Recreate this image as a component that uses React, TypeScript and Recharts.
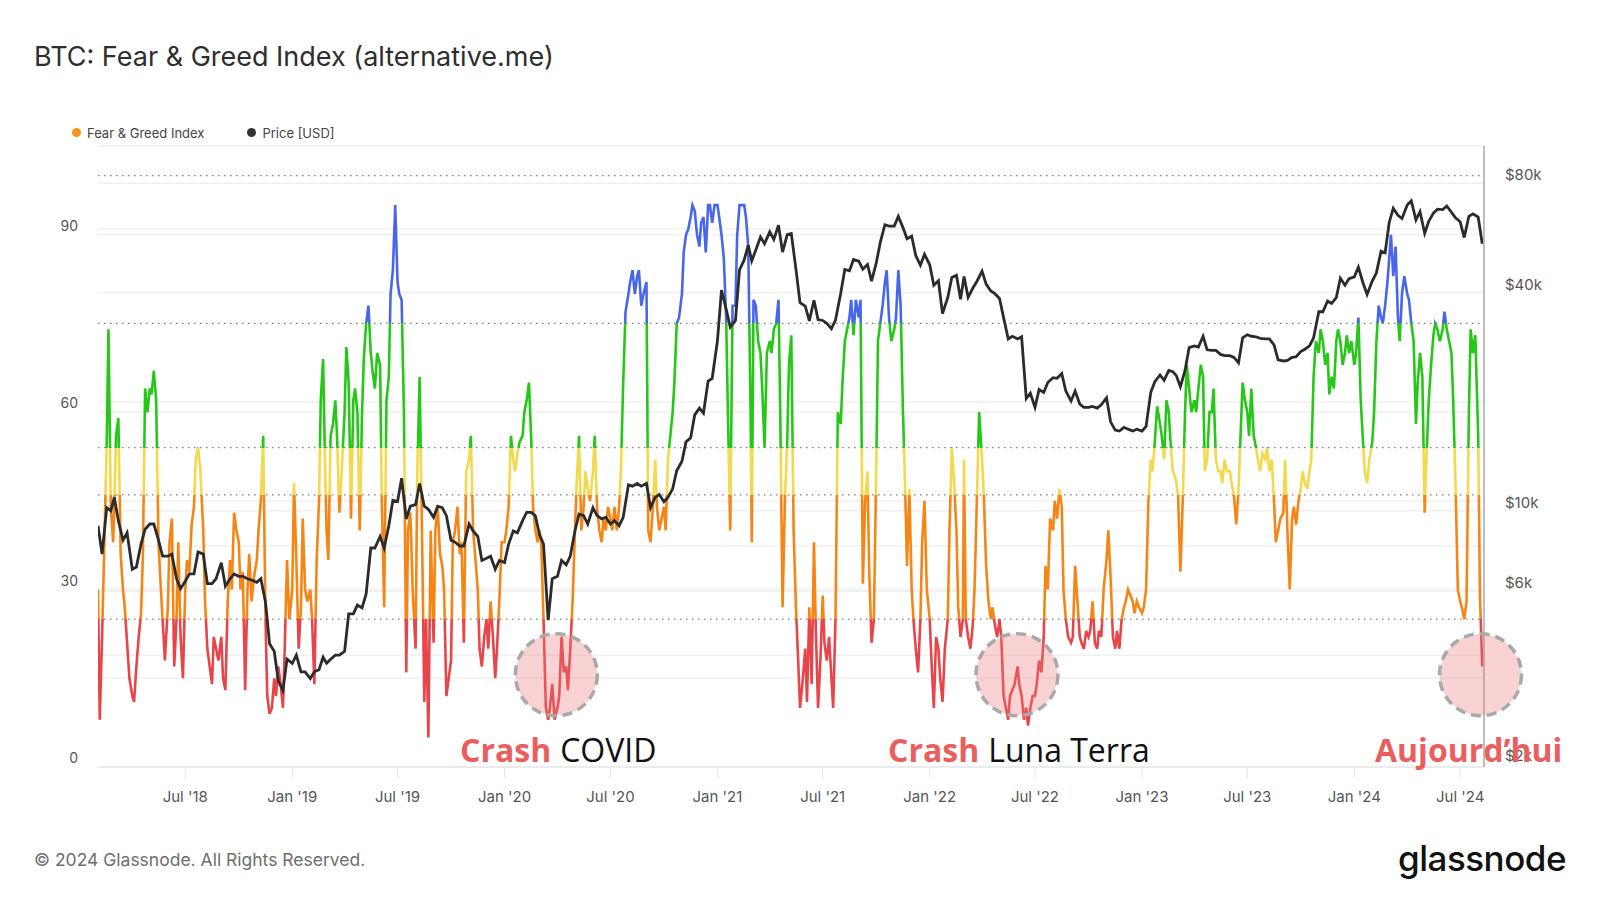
import React from 'react';
import { LineChart, Line, XAxis, YAxis, ReferenceLine, ReferenceDot } from 'recharts';

// ---------- DATA ----------
// Monthly rows starting Feb 2018. Fear & Greed sampled on these days of each month.
const START_YEAR = 2018;
const START_MONTH = 1; // February (0-based)
const SAMPLE_DAYS = [1, 4, 8, 12, 16, 19, 23, 27];
// BTC price sampled on days 1, 8, 16, 23 (slots of SAMPLE_DAYS)
const PRICE_SLOTS = [0, 2, 4, 6];

const fearGreed: number[][] = [
  // 2018
  [30, 8, 22, 38, 55, 74, 44, 38],
  [44, 56, 59, 36, 30, 27, 21, 15],
  [12, 11, 17, 22, 26, 35, 64, 60],
  [64, 63, 67, 62, 38, 32, 25, 18],
  [27, 38, 42, 17, 25, 38, 22, 15],
  [30, 35, 33, 41, 44, 52, 54, 50],
  [40, 28, 20, 17, 14, 22, 20, 18],
  [22, 15, 13, 28, 35, 30, 43, 40],
  [38, 30, 33, 13, 30, 36, 28, 32],
  [35, 40, 45, 56, 25, 12, 9, 10],
  [15, 12, 17, 14, 10, 20, 35, 25],
  // 2019
  [30, 48, 35, 20, 27, 42, 30, 28],
  [30, 25, 14, 35, 45, 62, 69, 48],
  [40, 35, 56, 58, 62, 56, 43, 50],
  [60, 71, 65, 42, 62, 64, 60, 40],
  [60, 69, 75, 78, 70, 67, 64, 70],
  [68, 45, 27, 62, 66, 80, 84, 95],
  [82, 80, 79, 60, 16, 40, 43, 30],
  [20, 50, 66, 40, 11, 25, 5, 40],
  [21, 40, 44, 36, 34, 30, 12, 15],
  [18, 38, 40, 44, 36, 38, 21, 50],
  [52, 56, 40, 35, 30, 20, 17, 22],
  [25, 20, 28, 22, 15, 20, 28, 38],
  // 2020
  [38, 40, 44, 56, 52, 50, 53, 55],
  [56, 60, 62, 65, 55, 44, 40, 38],
  [40, 38, 25, 10, 8, 10, 14, 8],
  [10, 12, 22, 16, 17, 13, 20, 28],
  [40, 48, 56, 40, 44, 50, 47, 45],
  [50, 56, 44, 40, 38, 42, 40, 44],
  [42, 40, 44, 40, 44, 50, 65, 77],
  [80, 82, 84, 80, 83, 84, 78, 80],
  [82, 40, 38, 44, 52, 44, 40, 42],
  [44, 40, 52, 56, 60, 65, 75, 76],
  [80, 87, 90, 91, 93, 95, 94, 90],
  [88, 92, 93, 87, 95, 95, 92, 95],
  // 2021
  [95, 93, 90, 86, 76, 60, 40, 78],
  [78, 90, 95, 95, 95, 93, 88, 60],
  [38, 79, 78, 72, 70, 64, 54, 70],
  [72, 70, 74, 75, 79, 60, 27, 45],
  [55, 68, 73, 40, 27, 20, 10, 14],
  [20, 11, 27, 14, 38, 24, 10, 18],
  [29, 21, 18, 22, 15, 10, 25, 60],
  [58, 65, 72, 74, 76, 79, 73, 79],
  [76, 79, 31, 45, 50, 33, 21, 25],
  [50, 72, 75, 78, 82, 84, 76, 72],
  [74, 76, 84, 78, 60, 50, 34, 47],
  [30, 25, 20, 16, 25, 38, 45, 30],
  // 2022
  [25, 18, 10, 22, 20, 15, 11, 20],
  [25, 40, 54, 48, 40, 27, 22, 25],
  [52, 25, 22, 20, 24, 30, 45, 60],
  [52, 46, 34, 28, 25, 27, 24, 22],
  [25, 22, 12, 10, 8, 12, 13, 14],
  [17, 14, 12, 8, 10, 7, 10, 12],
  [12, 14, 18, 16, 22, 34, 30, 42],
  [40, 45, 42, 47, 44, 30, 25, 22],
  [21, 22, 34, 28, 22, 21, 20, 23],
  [22, 23, 28, 21, 20, 23, 22, 30],
  [35, 40, 32, 22, 20, 23, 20, 25],
  [27, 28, 30, 29, 28, 26, 28, 27],
  // 2023
  [26, 27, 30, 45, 52, 50, 55, 61],
  [58, 56, 52, 62, 60, 55, 50, 49],
  [48, 46, 33, 45, 60, 68, 64, 60],
  [62, 60, 64, 68, 66, 50, 52, 60],
  [60, 64, 52, 50, 50, 48, 52, 50],
  [50, 48, 46, 41, 47, 55, 65, 62],
  [60, 56, 64, 56, 54, 52, 50, 53],
  [52, 54, 50, 52, 45, 38, 40, 42],
  [43, 52, 40, 30, 42, 44, 41, 45],
  [47, 50, 48, 47, 50, 52, 66, 72],
  [70, 74, 72, 68, 70, 63, 66, 64],
  [72, 74, 72, 68, 70, 73, 70, 72],
  // 2024
  [68, 70, 76, 62, 55, 50, 48, 52],
  [55, 60, 72, 78, 76, 75, 78, 82],
  [86, 90, 83, 88, 76, 72, 80, 83],
  [80, 79, 75, 72, 58, 65, 70, 66],
  [43, 52, 62, 68, 73, 75, 74, 72],
  [74, 77, 74, 72, 70, 62, 48, 30],
  [28, 27, 25, 28, 60, 74, 70, 73],
  [56, 29, 17],
];

const priceUsd: number[][] = [
  // 2018
  [9100, 7600, 10200, 10000],
  [10900, 9400, 8300, 8700],
  [6900, 7000, 8100, 8900],
  [9200, 9200, 8300, 7500],
  [7500, 7600, 6500, 6100],
  [6400, 6700, 6700, 7700],
  [7600, 6300, 6300, 6500],
  [7200, 6200, 6500, 6700],
  [6600, 6600, 6500, 6450],
  [6350, 6500, 5600, 4300],
  [4100, 3400, 3200, 3900],
  // 2019
  [3800, 4000, 3600, 3600],
  [3450, 3600, 3650, 3950],
  [3800, 3900, 4000, 4000],
  [4100, 5200, 5200, 5500],
  [5400, 5900, 7900, 7900],
  [8500, 7900, 9100, 10700],
  [10600, 12300, 9500, 10300],
  [10400, 11900, 10300, 10100],
  [9600, 10300, 10200, 9700],
  [8300, 8200, 8000, 8000],
  [9200, 8800, 8500, 7300],
  [7400, 7500, 6900, 7300],
  // 2020
  [7200, 8100, 8800, 8700],
  [9400, 9900, 9900, 9700],
  [8600, 8100, 5000, 6500],
  [6600, 7300, 7100, 7500],
  [8800, 9800, 9700, 9200],
  [10200, 9700, 9500, 9600],
  [9200, 9400, 9100, 9600],
  [11800, 11700, 11900, 11700],
  [11900, 10200, 10900, 11100],
  [10600, 10900, 11500, 12900],
  [13700, 15500, 15900, 18400],
  [19200, 18600, 22800, 23200],
  // 2021
  [29400, 40600, 36000, 32100],
  [33500, 46200, 49200, 54000],
  [48900, 52400, 56900, 54500],
  [58800, 56000, 61300, 51700],
  [57800, 58200, 46400, 37500],
  [36700, 33400, 38100, 33700],
  [33500, 32900, 31800, 33600],
  [39800, 46300, 45900, 49300],
  [48800, 46400, 47800, 43000],
  [48200, 55000, 61500, 61000],
  [61000, 64900, 60400, 56300],
  [57200, 50600, 47600, 51000],
  // 2022
  [47700, 41900, 43100, 35000],
  [38700, 44000, 44600, 38300],
  [44300, 38800, 41100, 42900],
  [45800, 42200, 40400, 39700],
  [38500, 34100, 29800, 30300],
  [29800, 30200, 20400, 21100],
  [19300, 21600, 21200, 22600],
  [23300, 23200, 23900, 21400],
  [20100, 21400, 19700, 19300],
  [19300, 19400, 19200, 19600],
  [20500, 17600, 16700, 16600],
  [17000, 16800, 16600, 16800],
  // 2023
  [16600, 17100, 21200, 22700],
  [23700, 22900, 24400, 24200],
  [23600, 22000, 24400, 28200],
  [28500, 28300, 30300, 27800],
  [27700, 27700, 27000, 26800],
  [26800, 26500, 25600, 30000],
  [30600, 30300, 30200, 29900],
  [29800, 29800, 28700, 26100],
  [25900, 26000, 26500, 26600],
  [27500, 27900, 28500, 30000],
  [35400, 35400, 37900, 37300],
  [38700, 43800, 41900, 43700],
  // 2024
  [44200, 47000, 42500, 39500],
  [43100, 45300, 52000, 51500],
  [62400, 68300, 65300, 64000],
  [69700, 71600, 63400, 66800],
  [58300, 62900, 66200, 67900],
  [67700, 69300, 66600, 64300],
  [62700, 56700, 64900, 65900],
  [64600, 54500],
];

const xTickDates = [
  '2018-07-01', '2019-01-01', '2019-07-01', '2020-01-01', '2020-07-01', '2021-01-01', '2021-07-01',
  '2022-01-01', '2022-07-01', '2023-01-01', '2023-07-01', '2024-01-01', '2024-07-01',
];
const X_DOMAIN_DATES = ['2018-02-01', '2024-08-11'];
const fgTicks = [0, 30, 60, 90];
const fgGrid = [15, 30, 45, 60, 90];
const fgThresholds = [25, 46, 54, 75, 100];
const priceTicks = [2000, 6000, 10000, 40000, 80000];
const priceGrid = [4000, 6000, 8000, 10000, 20000, 40000, 60000, 80000];

const annotations = [
  { date: '2020-03-30', fg: 15.6 },
  { date: '2022-05-31', fg: 15.6 },
  { date: '2024-08-05', fg: 15.6 },
];

// ---------- STYLE ----------
const BLUE = '#4866eb';
const GREEN = '#26c817';
const YELLOW = '#f3d94d';
const ORANGE = '#f58514';
const RED = '#e8454a';
const SALMON = '#eb5e5e';
const MONTHS = ['Jan', 'Feb', 'Mar', 'Apr', 'May', 'Jun', 'Jul', 'Aug', 'Sep', 'Oct', 'Nov', 'Dec'];

type Row = { t: number; fg: number; price: number | null };
const rows: Row[] = [];
fearGreed.forEach((vals, mi) => {
  const y = START_YEAR + Math.floor((START_MONTH + mi) / 12);
  const m = (START_MONTH + mi) % 12;
  vals.forEach((v, k) => {
    const slot = PRICE_SLOTS.indexOf(k);
    const p = slot >= 0 && priceUsd[mi][slot] !== undefined ? priceUsd[mi][slot] : null;
    rows.push({ t: Date.UTC(y, m, SAMPLE_DAYS[k]), fg: v, price: p });
  });
});

const fgAll = fearGreed.flat();
const fgMax = Math.max(...fgAll);
const fgMin = Math.min(...fgAll);
const off = (v: number) => Math.min(1, Math.max(0, (fgMax - v) / (fgMax - fgMin)));

const xTicks = xTickDates.map((d) => Date.parse(d));
const xDomain = X_DOMAIN_DATES.map((d) => Date.parse(d));
const fmtX = (v: number) => {
  const d = new Date(v);
  return `${MONTHS[d.getUTCMonth()]} '${String(d.getUTCFullYear()).slice(2)}`;
};
const fmtPrice = (v: number) => `$${Math.round(v / 1000)}k`;

const LeftTick = (props: any) => (
  <text x={props.x} y={props.y - 4} textAnchor="end" fill="#555" fontSize={14} fontFamily="Inter">
    {props.payload.value}
  </text>
);
const RightTick = (props: any) => (
  <text x={props.x} y={props.y - 3} textAnchor="start" fill="#555" fontSize={15} fontFamily="Inter">
    {fmtPrice(props.payload.value)}
  </text>
);
const BottomTick = (props: any) => (
  <text x={props.x} y={props.y} dy="0.71em" textAnchor="middle" fill="#555" fontSize={15} fontFamily="Inter">
    {fmtX(props.payload.value)}
  </text>
);

export default function App() {
  return (
    <div style={{ position: 'absolute', left: 0, top: 0, width: 1600, height: 900, background: '#fff', fontFamily: 'Inter', overflow: 'hidden' }}>
      <div style={{ position: 'absolute', left: 34, top: 43, fontSize: 27, lineHeight: '27px', color: '#2e2e2e', whiteSpace: 'nowrap' }}>
        BTC: Fear &amp; Greed Index (alternative.me)
      </div>
      <div style={{ position: 'absolute', left: 72, top: 126, height: 13, display: 'flex', alignItems: 'center', fontSize: 13, color: '#444', whiteSpace: 'nowrap' }}>
        <span style={{ width: 9, height: 9, borderRadius: 5, background: '#f7931e', display: 'inline-block', marginRight: 6 }} />
        <span>Fear &amp; Greed Index</span>
        <span style={{ width: 9, height: 9, borderRadius: 5, background: '#333', display: 'inline-block', marginLeft: 43, marginRight: 6 }} />
        <span>Price [USD]</span>
      </div>

      <div style={{ position: 'absolute', left: 0, top: 0 }}>
        <LineChart width={1600} height={900} data={rows} margin={{ top: 146, right: 0, bottom: 93, left: 0 }}>
          <defs>
            <linearGradient id="fgGradient" x1="0" y1="0" x2="0" y2="1">
              <stop offset={0} stopColor={BLUE} />
              <stop offset={off(75)} stopColor={BLUE} />
              <stop offset={off(75)} stopColor={GREEN} />
              <stop offset={off(54)} stopColor={GREEN} />
              <stop offset={off(54)} stopColor={YELLOW} />
              <stop offset={off(46)} stopColor={YELLOW} />
              <stop offset={off(46)} stopColor={ORANGE} />
              <stop offset={off(25)} stopColor={ORANGE} />
              <stop offset={off(25)} stopColor={RED} />
              <stop offset={1} stopColor={RED} />
            </linearGradient>
          </defs>
          <XAxis
            dataKey="t"
            type="number"
            domain={xDomain}
            ticks={xTicks}
            interval={0}
            height={40}
            axisLine={{ stroke: '#e4e4e4', strokeWidth: 1.5 }}
            tickLine={{ stroke: '#e6e6e6' }}
            tickSize={11}
            tickMargin={13}
            tick={<BottomTick />}
            allowDataOverflow
          />
          <YAxis
            yAxisId="left"
            domain={[0, 105]}
            ticks={fgTicks}
            interval={0}
            width={98}
            axisLine={false}
            tickLine={false}
            tickSize={0}
            tickMargin={20}
            tick={<LeftTick />}
            allowDataOverflow
          />
          <YAxis
            yAxisId="right"
            orientation="right"
            scale="log"
            domain={[1967, 101400]}
            ticks={priceTicks}
            interval={0}
            width={116}
            axisLine={{ stroke: '#a8a8a8', strokeWidth: 1.5 }}
            tickLine={false}
            tickSize={0}
            tickMargin={21}
            tick={<RightTick />}
            allowDataOverflow
          />
          <ReferenceLine yAxisId="left" y={105} stroke="#ececec" strokeWidth={1.5} />
          {fgGrid.map((v) => (
            <ReferenceLine key={'lg' + v} yAxisId="left" y={v} stroke="#f0f0f0" strokeWidth={1.5} />
          ))}
          {priceGrid.map((v) => (
            <ReferenceLine key={'rg' + v} yAxisId="right" y={v} stroke="#f0f0f0" strokeWidth={1.5} />
          ))}
          {fgThresholds.map((v) => (
            <ReferenceLine key={'th' + v} yAxisId="left" y={v} stroke="#7d7d7d" strokeWidth={1.2} strokeDasharray="1.5 4.5" />
          ))}
          <Line
            yAxisId="left"
            type="linear"
            dataKey="fg"
            stroke="url(#fgGradient)"
            strokeWidth={2.6}
            dot={false}
            activeDot={false}
            isAnimationActive={false}
          />
          <Line
            yAxisId="right"
            type="linear"
            dataKey="price"
            stroke="#2b2b2b"
            strokeWidth={2.8}
            dot={false}
            activeDot={false}
            connectNulls
            isAnimationActive={false}
          />
          {annotations.map((a) => (
            <ReferenceDot
              key={a.date}
              yAxisId="left"
              x={Date.parse(a.date)}
              y={a.fg}
              r={41}
              fill="rgba(238,120,120,0.33)"
              stroke="#a9a9a9"
              strokeWidth={3.5}
              strokeDasharray="10 6"
              ifOverflow="visible"
            />
          ))}
        </LineChart>
      </div>

      <svg width={1600} height={900} style={{ position: 'absolute', left: 0, top: 0, pointerEvents: 'none' }}>
        <text x={460} y={762} fontFamily="'Open Sans'" fontSize={32}>
          <tspan fontWeight={700} fill={SALMON}>Crash</tspan>
          <tspan dx={9} fill="#111">COVID</tspan>
        </text>
        <text x={888} y={762} fontFamily="'Open Sans'" fontSize={32}>
          <tspan fontWeight={700} fill={SALMON}>Crash</tspan>
          <tspan dx={9} fill="#111">Luna Terra</tspan>
        </text>
        <text x={1375} y={762} fontFamily="'Open Sans'" fontSize={32} fontWeight={700} fill={SALMON}>
          Aujourd’hui
        </text>
      </svg>

      <div style={{ position: 'absolute', left: 34, top: 851, fontSize: 17.5, lineHeight: '17.5px', color: '#6e6e6e', whiteSpace: 'nowrap' }}>
        © 2024 Glassnode. All Rights Reserved.
      </div>
      <div style={{ position: 'absolute', right: 34, top: 841, fontSize: 35, lineHeight: '35px', fontWeight: 500, color: '#111', letterSpacing: -0.5, whiteSpace: 'nowrap' }}>
        glassnode
      </div>
    </div>
  );
}
